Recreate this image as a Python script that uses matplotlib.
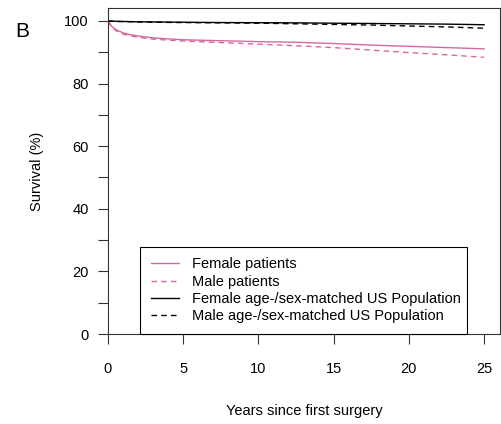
import matplotlib
matplotlib.use("Agg")
import matplotlib.pyplot as plt

plt.rcParams["font.family"] = ["Liberation Sans", "DejaVu Sans"]

# Survival curves (years since first surgery, %)
years = [0, 0.25, 0.5, 1, 1.5, 2, 3, 5, 7.5, 10, 12.5, 15, 17.5, 20, 22.5, 25]
female_patients = [100, 98.3, 97.3, 96.2, 95.6, 95.2, 94.6, 94.0, 93.7,
                   93.4, 93.2, 92.8, 92.3, 91.9, 91.5, 91.1]
male_patients = [100, 98.0, 97.0, 95.8, 95.2, 94.8, 94.2, 93.6, 93.1,
                 92.6, 92.1, 91.5, 90.7, 89.9, 89.2, 88.4]
female_pop = [100, 99.95, 99.9, 99.85, 99.8, 99.75, 99.7, 99.6, 99.5,
              99.45, 99.4, 99.3, 99.2, 99.1, 99.0, 98.8]
male_pop = [100, 99.9, 99.85, 99.8, 99.75, 99.7, 99.6, 99.5, 99.4,
            99.3, 99.1, 98.9, 98.7, 98.4, 98.1, 97.7]

labels = ["Female patients", "Male patients",
          "Female age-/sex-matched US Population",
          "Male age-/sex-matched US Population"]
x_ticks = [0, 5, 10, 15, 20, 25]
y_ticks = list(range(0, 101, 10))
y_ticklabels = [str(v) if v % 20 == 0 else "" for v in y_ticks]

PINK = "#d7689f"
FS = 10.5

fig = plt.figure(figsize=(5.02, 4.24), dpi=100)
ax = fig.add_axes([108 / 502, 90 / 424, 392 / 502, 326 / 424])

ax.plot(years, female_patients, color=PINK, lw=1.0, label=labels[0])
ax.plot(years, male_patients, color=PINK, lw=1.0, dashes=(4, 3), label=labels[1])
ax.plot(years, female_pop, color="black", lw=1.0, label=labels[2])
ax.plot(years, male_pop, color="black", lw=1.0, dashes=(4, 3), label=labels[3])

ax.set_xlim(0, 26.06)
ax.set_ylim(0, 104.15)
ax.set_xticks(x_ticks)
ax.set_yticks(y_ticks)
ax.set_yticklabels(y_ticklabels)
ax.tick_params(axis="both", direction="out", length=7, width=0.8,
               labelsize=FS, color="#333333")
ax.tick_params(axis="x", pad=13)
ax.tick_params(axis="y", pad=7)
for s in ax.spines.values():
    s.set_linewidth(0.8)
    s.set_color("#333333")

ax.set_ylabel("Survival (%)", fontsize=FS)
ax.yaxis.set_label_coords(-0.163, 0.5)
ax.set_xlabel("Years since first surgery", fontsize=FS)
ax.xaxis.set_label_coords(0.5, -0.215)

leg = ax.legend(loc="lower left", bbox_to_anchor=(0.0816, 0, 0.834, 0.27),
                mode="expand", borderaxespad=0, fontsize=FS, frameon=True,
                fancybox=False, handlelength=1.9, handletextpad=0.95,
                labelspacing=0.22, borderpad=0.75)
leg.get_frame().set_edgecolor("black")
leg.get_frame().set_linewidth(0.8)
leg.get_frame().set_alpha(1)

fig.text(15 / 502, 1 - 37 / 424, "B", fontsize=15, va="baseline", ha="left")

fig.savefig("out.png", dpi=100)
